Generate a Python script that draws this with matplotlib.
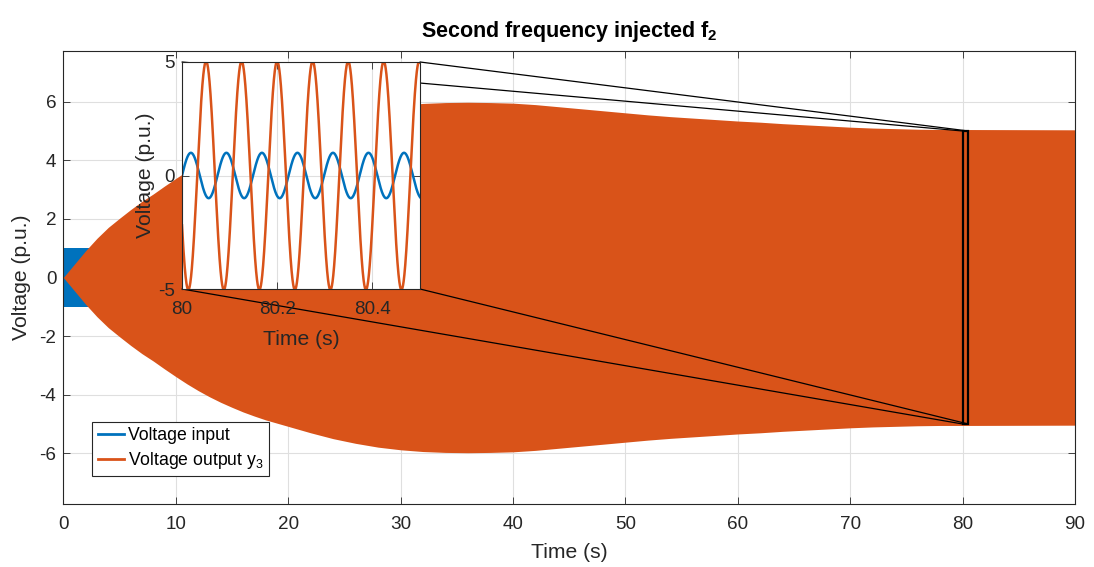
import numpy as np
import matplotlib
matplotlib.use("Agg")
import matplotlib.pyplot as plt
from matplotlib.lines import Line2D
from matplotlib.patches import Rectangle, ConnectionPatch

# envelope of the output y3
env_t = [0, 1, 2, 3, 4, 5, 6, 7, 8, 9, 10, 11, 12, 13, 14, 15, 16, 17, 18, 19,
         20, 22, 24, 26, 28, 30, 32, 34, 36, 38, 40, 42, 44, 46, 48, 50, 52, 54,
         56, 58, 60, 62, 64, 66, 68, 70, 72, 74, 76, 78, 80, 90]
env_amp = [0, 0.46, 0.92, 1.34, 1.71, 2.02, 2.32, 2.6, 2.85, 3.12, 3.38, 3.63,
           3.86, 4.07, 4.26, 4.43, 4.59, 4.73, 4.86, 4.97, 5.08, 5.3, 5.5, 5.66,
           5.79, 5.88, 5.94, 5.97, 5.98, 5.97, 5.95, 5.9, 5.83, 5.76, 5.69, 5.62,
           5.55, 5.49, 5.44, 5.39, 5.34, 5.3, 5.25, 5.21, 5.17, 5.13, 5.1, 5.08,
           5.06, 5.05, 5.05, 5.04]

# input voltage: constant amplitude over the run
in_t = [0, 90]
in_amp = 1.0

# zoomed window
zoom_t = [80, 80.5]
f_hz = 13.4
out_amp_zoom = 5.03
in_phase = 0.0
out_phase = -2.69

xticks_main = np.arange(0, 91, 10)
yticks_main = np.arange(-6, 7, 2)
xticks_zoom = [80, 80.2, 80.4]
yticks_zoom = [-5, 0, 5]

blue = '#0072BD'
orange = '#D95319'
dark = '#262626'
gridc = '#dfdfdf'

plt.rcParams['font.family'] = ['Liberation Sans', 'DejaVu Sans']
plt.rcParams['mathtext.fontset'] = 'custom'
plt.rcParams['mathtext.rm'] = 'Liberation Sans'
plt.rcParams['mathtext.it'] = 'Liberation Sans:italic'
plt.rcParams['mathtext.bf'] = 'Liberation Sans:bold'
plt.rcParams['axes.unicode_minus'] = False

fig = plt.figure(figsize=(10.94, 5.67), dpi=100)
ax = fig.add_axes([63.3/1094, 1-503.7/567, 1011.7/1094, 453/567])


def style(a, fs, xpad, ypad):
    a.set_axisbelow(True)
    a.grid(True, color=gridc, lw=0.8)
    a.tick_params(direction='in', top=True, right=True, length=5, width=0.6,
                  colors=dark, labelsize=fs)
    a.tick_params(axis='x', pad=xpad)
    a.tick_params(axis='y', pad=ypad)
    for s in a.spines.values():
        s.set_color(dark)
        s.set_linewidth(0.8)


# main plot
ax.fill_between(in_t, -in_amp, in_amp, color=blue, lw=0)
ax.fill_between(env_t, -np.array(env_amp), env_amp, color=orange, lw=0)
ax.set_xlim(0, 90)
ax.set_ylim(-7.72, 7.74)
ax.set_xticks(xticks_main)
ax.set_yticks(yticks_main)
style(ax, 13.6, 9, 5)
ax.set_xlabel('Time (s)', fontsize=15.2, color=dark, labelpad=7)
ax.set_ylabel('Voltage (p.u.)', fontsize=15.2, color=dark, labelpad=6)
ax.set_title(r'Second frequency injected $\mathbf{f_2}$', fontsize=15.5,
             fontweight='bold', color='black', pad=10)

handles = [Line2D([], [], color=blue, lw=2), Line2D([], [], color=orange, lw=2)]
leg = ax.legend(handles, ['Voltage input', r'Voltage output $\mathrm{y_3}$'],
                loc='lower left', bbox_to_anchor=(0.0287, 0.061), borderaxespad=0,
                fontsize=12.7, fancybox=False, framealpha=1, handlelength=1.5,
                handletextpad=0.2, labelspacing=0.3, borderpad=0.3)
leg.get_frame().set_edgecolor(dark)
leg.get_frame().set_linewidth(0.8)

# zoom box in main axes
ax.add_patch(Rectangle((zoom_t[0], -5), zoom_t[1]-zoom_t[0], 10, fill=False,
                       ec='black', lw=1.6, zorder=5))

# inset
axi = fig.add_axes([182/1094, 1-289/567, 238/1094, 227/567])
t = np.linspace(zoom_t[0], zoom_t[1], 3000)
axi.plot(t, in_amp*np.sin(2*np.pi*f_hz*(t-zoom_t[0]) + in_phase), color=blue, lw=1.8)
axi.plot(t, out_amp_zoom*np.sin(2*np.pi*f_hz*(t-zoom_t[0]) + out_phase), color=orange, lw=1.8)
axi.set_xlim(zoom_t)
axi.set_ylim(-5, 5)
axi.set_xticks(xticks_zoom)
axi.set_xticklabels(['80', '80.2', '80.4'])
axi.set_yticks(yticks_zoom)
style(axi, 13.6, 9, 5)
axi.set_xlabel('Time (s)', fontsize=15.2, color=dark, labelpad=8)
axi.set_ylabel('Voltage (p.u.)', fontsize=15.2, color=dark, labelpad=2)

# connector lines from inset corners to zoom box
for xa, ya, xb, yb in [(0, 1, zoom_t[0], 5), (1, 1, zoom_t[1], 5),
                       (0, 0, zoom_t[0], -5), (1, 0, zoom_t[1], -5)]:
    con = ConnectionPatch(xyA=(xa, ya), coordsA=axi.transAxes,
                          xyB=(xb, yb), coordsB=ax.transData,
                          color='black', lw=0.9, zorder=4)
    ax.add_artist(con)

fig.savefig('out.png', dpi=100)
